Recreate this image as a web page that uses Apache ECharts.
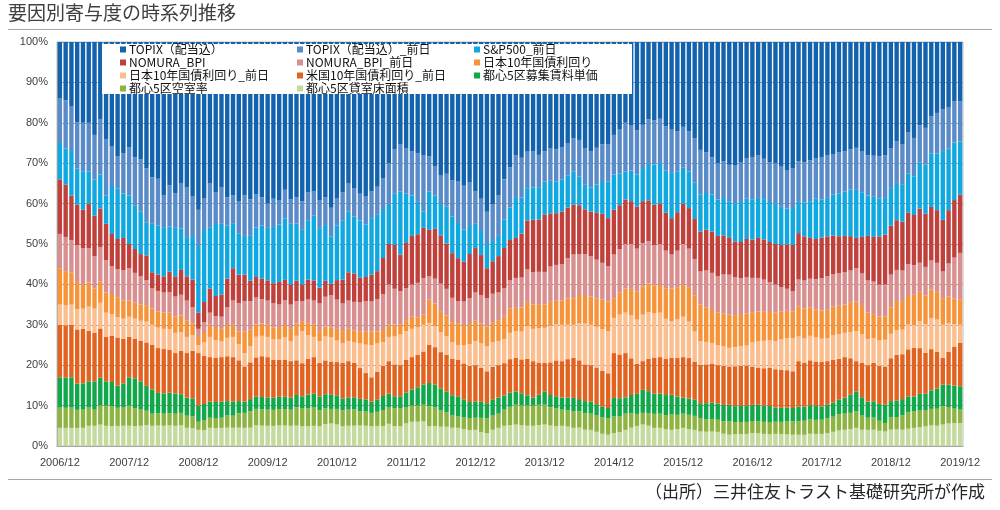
<!DOCTYPE html>
<html>
<head>
<meta charset="utf-8">
<script src="https://cdn.jsdelivr.net/npm/echarts@6/dist/echarts.min.js"></script>
<style>
html,body{margin:0;padding:0;background:#fff;}
#chart{width:1000px;height:510px;}
</style>
</head>
<body>
<div id="chart"></div>
<script>
// ---- categories (monthly, 2006/12 .. 2019/12) ----
const categories = [];
for (let y = 2006, m = 12; y < 2019 || (y === 2019 && m <= 12); ) {
  categories.push(y + '/' + (m < 10 ? '0' + m : m));
  m++; if (m > 12) { m = 1; y++; }
}
const yTicks = [0,10,20,30,40,50,60,70,80,90,100];

// ---- series values (share %) ----
const TOPIX = [
14,14.5,16,20,20,20,23,18,24,26,28.5,27.5,
26,29,29,30.5,33.5,33.5,38,35,37.5,34,36,39,
41.5,39,35,37.5,36,38,38,39,38,38.5,37,38,
40,39,38.5,36,39,38,39.5,38,37,40,39,42,
40,38,35,36,37,38,37,36,34,30,27,25.4,
26,27,27.5,28,28.3,30,33,32,34,34.5,36,35,
37,39,42,40,38,34,31,28,29,27,27,28,
27,26,27,26,25,23.8,24,26,27,26,25,25.4,
23,22,20,20.5,22,20.5,19,19.5,19,21,21.7,22,
21,22,24,26.7,27,28,30,29,30.4,31,30,29,
28.5,28,29,30,30,31,32,31.2,29.5,30,29,29,
28.5,28,27.5,27,27,26.5,26.2,27,28,28,28.5,28,
26,24,25,22,23.8,20,21,18,17.5,16.7,16,14.5,14.7];
const TOPIX_prev = [
11,12,11,11.5,12,12,11,13,14,10,8,10,
12,12,13,13,11.5,11.5,8,10,8.5,11,12.5,10,
9,8,11,8,9,7,7,8,10,9,8,7,
6,7,6,7,6,6.5,7,7,6,7,7,7.3,
7,7,7,7,6.5,7,6.6,7,8,10,11,11.6,
11,11,12,14,8.7,7,7,8,9,10.3,11,11,
8,8,8,9,10,10,10,10.6,10,9,9,8,
7.5,8,8,8,8,8.2,9,9,9,9,9,9.1,
9.8,11,12,11,11,10.7,11,11,11,11,10.7,10,
10,10,11,11.1,10,9,9,9,9,9.5,10,10,
10.5,10.6,10,10,10,10,9.5,9.9,9.9,10,10,10,
10.5,10.6,10,10,10,10,10.4,10,10,10,10.5,10.6,
10,10,10,10,9.5,9,9,9,10,10.3,10,10,9.9];
const SP500_prev = [
9,9,11,9,9.5,8,9,8,7,12,12.5,11,
12,11,10.5,8,12,12,12,11,12,10,9.5,11,
16.5,18,15,18,17.5,13,11,10,9.6,11,12,13,
13,14,14,15,15,14,13.5,15,16,15,14,12,
14,15,15,14,14,13,14,14,12,10,13,15.6,
12,10,8,4,9.5,8,8,9,9,8.7,8,7,
6,6,6,5,5,7,8,9.9,9,8,8,8,
8.2,8,8,8,8,8.3,7,6,6,7,8,9.1,
8.7,8,7,7.5,8,8.2,9,10,10,10.5,11.2,10,
9,9,9,9.1,9,9,9,9.1,9.1,9.5,10,10,
10,9.9,10,10,10,9.5,9,9.1,7.9,8.5,9,10,
9.5,9.5,10,10.5,11,11.5,11.9,11,10,10,9.5,9.1,
9,9,9,9.5,9.6,11,12,13,14,17,15,14,13.2];
const BPI = [
13.5,13,11,10,9.5,11,10,9,9,8,7.5,8,
6,6,5.5,6,4,4,4,5,5,6,6,7,
4,5,6,5,5.5,7,8,7,6.6,5,5,5,
5,5,5.5,5,5,5,4.2,5,5,4,4,2.9,
5,6,7,7,6,6,6.6,7,9,10,11,9.1,
11,12,12,12.4,11.5,12,12,11,11,10.7,10,11,
11,10,7.4,8,9,10,10,9.9,11,12,13,13,
14.1,13,13,13,12.5,12.3,12,11,11,11.5,12,11.9,
11.1,11,11,10.5,10.5,10.4,10,10,10,9.5,9,9.5,
10,10,10,9.9,10,10,10,9.5,9.1,9,9,9.5,
9.5,9.9,10,10,10,10.5,11,11.5,11.5,11,10,10,
10,9.9,9.5,9,9,8.5,7.5,9,11,11,12,12.3,
12,12,12,12.5,12.4,13,13,13,13,12.8,13,14,14.4];
const BPI_prev = [
8.5,8.5,8,9,9,8.5,8,8,8,7,7,7.5,
8,7.5,7,6,5,5,5,5,5,5,5,4,
2,2.5,3,3,3,4.5,6,7,7.4,7,6.5,6,
6,6,5.5,6,6,5.5,4.9,6,6,7,7.5,8.2,
7.5,7,7,7,7,7.5,7.4,8,9,10,9,8.3,
8,8,8.5,9.1,5.8,6,7,6.5,6,5.4,6,6.5,
7,7,7,7,7,7,7,7.4,7.5,8,8,8,
8,8.5,9,9,10,10.8,10,10,10,9.5,9,8.7,
10.8,11,11,11,10.7,10.7,10.5,10,10,9.5,8.4,9,
10,9.5,9,8.2,9,9,9,9.5,9.9,9.5,9,9,
8.5,8.3,8,7.5,7,6,5.5,5,6.6,7,7,7.5,
8,8.3,8,8,8,8,8.2,8,8,8,8,7.9,
8,7.5,7.5,7.5,7.4,7,7,7,7,6.6,8,10,11.6];
const JGB10 = [
9,8.5,8,7,6,6,5,5,5,5,5,4.5,
4,4,4,4,4,4,4,4,4,4,4,3,
2,2.5,3,3,3,3,3,3,5.4,4,3,3,
3,3,3,3,3,3,2.5,3,3,2.5,2.5,2.4,
3,3,3,3,3,3.2,3.4,3,3,3,3,2.4,
2.5,3,2.5,2.5,5.8,5.5,5,5,5,5.4,5,5,
5,5,4.9,5,5,5.5,6,5.8,6,6,6,6,
5.8,6,6,6,6.5,6.6,7,7,7,7,7.2,7.4,
4.9,5.5,6,6.5,7,7,7,7,7,7.5,8.1,8,
8,8.5,9,9.1,8.5,8,8,8,8.2,8,8,8,
7.5,7.4,7.2,7,7,7,6.8,6.6,7.5,7.5,7,7,
7,7,7,7,7,7.2,7.4,7,6.5,6,6,5.8,
6.5,7,7,7.2,7.5,7,7,7,7,6.6,6.5,6.2,6.2];
const JGB10_prev = [
5,5,5,5,5,6,6,6,6,5.5,5,5,
5,5,5,5,5,5,5,5,5,4.5,4,4,
2,3.5,5,4.5,4,4.5,5,4,3.3,4,5,5,
5,5,5,5.5,5,6,7.9,6,5,5.5,6,6.2,
5.5,5,5,5,6,7,8,7,6,6,7,7.6,
7,7,6.8,6.6,5.4,5,5,4.5,4,3.6,4.5,5.5,
6,6,6.2,6,6,6,6.5,6.6,7,8,8,8.5,
8.7,9,9,9,8.5,8.2,9,10,10,10,10.2,10.4,
8.7,10,10,10.5,11,11.5,11.5,11,11,10,9.1,9.5,
10,9,7.5,5.8,5.5,5,5,4.8,4.6,4.8,5,5,
6,6.6,6.8,7,7,7.5,8,8.2,6.1,6,6,6,
5.8,5.7,6,6,6,6.5,7.4,7,6.5,6,6.3,6.6,
6,6,6,6,5.7,6.5,7,7.5,8,8.2,7,5.5,4.5];
const UST10_prev = [
13,13,13,13.5,13.5,12.5,12,11.5,11,11.5,12,11,
10,10,10,10.5,11,11,11,10.5,10,10.5,11,12,
13,12,11,11,11,11,11,10,8.7,9,9.5,10,
10,9.5,9,9,9,8.5,8.2,9,9,8.5,8.5,8.3,
8.5,9,9,8.5,7.5,6.5,6,7,7.5,8,8,7.7,
8,8,8,8.2,9.4,9,9,9,9,9.1,9,9,
9,8.5,7.9,8,8,8,8.3,8.3,8.5,9,9,8,
7,8,9,9,9.5,9.9,9.5,9,9,9,8.8,8.6,
11.1,11,11,9,7.5,7.1,8,9,9,9,9.1,9.5,
10,10,9.5,9.5,9.5,9.5,9.5,9.5,9.5,10,10,10,
9.5,9.1,9.3,9.5,9.5,9.5,9.3,9.1,11.2,11,11,11,
11,10.8,10.5,10,10,9,7.5,8.5,9,9.5,9.5,9.5,
10.5,11,11,11.5,12,11,10,10,9,6.6,8,9.5,10.7];
const RENT = [
7.5,7.5,7.5,6.5,6.5,6.5,7,6.5,6,6,5.5,6,
7,7.5,7,6,6,5,5,5,5,4.5,4.5,4.5,
4,4,4,4,4,3.5,3.5,3,2.8,3,3,3,
3,3,3,3,3,3,2.9,3.5,3.5,3.5,3.5,3.7,
3.5,3,3,3,3,3,2.8,3,3.5,3.5,3,2.9,
3.5,4,4.5,5,5.8,5.5,5.5,5,5,5,4.5,4,
4,4,3.7,4,4,3.5,3.5,3.3,3,2.5,2,2.5,
3.3,3,3,3,3.2,3.3,3,3,3,2.8,2.6,2.5,
4.6,4.5,4,4.5,5,5.7,5.5,5,5,5,4.9,4.5,
4,4,4,3.7,4,4,4,4,4.1,4,4,4,
4,4.1,4,4,3.5,3.5,3.5,3.3,3.7,3.5,3.5,3.5,
3.3,3.3,3.5,3.5,4,4.5,4.9,4.5,4,4,4.2,4.5,
4,4,4,3.8,3.7,4,4,4.5,5,5.4,5.5,5.6,5.8];
const VACANCY = [
5,5,5,4.5,4.5,4.5,4,4.5,5,5,4.5,4.5,
5,4.5,4,3.5,3,3,3,3,3,3,3,3,
2,2.5,2.5,2.5,2.5,3,3,3.5,3.7,4,4,4,
4,4,4,4,4,4.5,4.5,4.5,4.5,4,4,3.7,
4,4,4,4,3.5,3.5,3.3,3.5,4,4,4.5,4.5,
4,4,4,4.1,4.9,4.5,4,3.5,3,2.8,3,3,
3,3.5,3.7,3.5,3.5,4,4.5,4.9,5,5,5,5,
4.9,4.5,4.5,4,4,4.1,4,4,4,4,4,4.1,
4.1,4,4,3.5,3,2.9,3,3.5,3.5,3.5,3.8,3.5,
3.5,3.5,3.5,3.3,3,3,3,3,3.3,3,3,3,
3,2.9,3,3,3,3,3.2,3.3,3.3,3.5,3.5,3.5,
3.5,3.7,3.7,4,4,4,4.1,3.5,3,3,2.5,2.1,
3,3,3.5,4,4.1,4,4,4,4.2,4.5,4,3.5,3.3];
const FLOOR = [
4.5,4.5,4.5,4.5,4.5,5,5,5,5,5,5,5,
5,5,5,5,5,5,5,5,5,5,4.5,4.5,
4,4,4.5,4.5,4.5,4.5,4.5,4.5,4.5,4.5,5,5,
5,5,5,5,5,5,4.9,5,5,5,5.5,5.7,
5.5,5,5,5,5,5,4.9,5,5,5.5,5,4.9,
5.5,6,6,6.1,4.9,4.8,4.8,4.7,4.5,4.5,4.2,4,
4,3.5,3.2,4,4.5,5,5.2,5.3,5.2,5,5,5.2,
5.3,5,5,5,4.8,4.5,4.5,4,4,3.5,3,2.8,
3.2,3.5,4,4.5,5,5.3,5,4.5,4.5,4.2,4,4.2,
4.5,4.2,4,3.6,3.5,3.5,3.5,3,2.8,3,3,3,
3.2,3.2,3,3,3,3,2.9,2.8,2.8,2.8,3,3,
3,3.2,3.5,3.8,4,4.2,4.5,4,4,4,3.8,3.6,
4,4,4,4.2,4.5,4.5,4.8,5,5,5.3,5.5,5.6,5.7];

// ---- series names / colours (legend order = top of stack first) ----
const names = {
  TX:'TOPIX（配当込）', TXp:'TOPIX（配当込）_前日', SP:'S&P500_前日',
  BPI:'NOMURA_BPI', BPIp:'NOMURA_BPI_前日', JP:'日本10年国債利回り',
  JPp:'日本10年国債利回り_前日', US:'米国10年国債利回り_前日', GR:'都心5区募集賃料単価',
  OL:'都心5区空室率', LG:'都心5区貸室床面積'
};
const stackDefs = [ // bottom -> top
  [names.LG, FLOOR, '#C4DA9E'],
  [names.OL, VACANCY, '#8DB440'],
  [names.GR, RENT, '#11A84B'],
  [names.US, UST10_prev, '#E2621F'],
  [names.JPp, JGB10_prev, '#FBBE8F'],
  [names.JP, JGB10, '#F7943A'],
  [names.BPIp, BPI_prev, '#D98F8F'],
  [names.BPI, BPI, '#C0403B'],
  [names.SP, SP500_prev, '#0FA8E0'],
  [names.TXp, TOPIX_prev, '#5A8BC9'],
  [names.TX, TOPIX, '#1262AE']
];

// 100% stacked: each column scaled to a total of 100
const sums = categories.map((_, i) => stackDefs.reduce((s, d) => s + d[1][i], 0));
const series = stackDefs.map(d => ({
  name: d[0], type: 'bar', stack: 'all',
  barCategoryGap: '24%',
  itemStyle: { color: d[2] },
  emphasis: { disabled: true },
  data: d[1].map((v, i) => +(v * 100 / sums[i]).toFixed(3))
}));

const legendCols = [
  { left: 120, data: [names.TX, names.BPI, names.JPp, names.OL] },
  { left: 297, data: [names.TXp, names.BPIp, names.US, names.LG] },
  { left: 474, data: [names.SP, names.JP, names.GR] }
];
const legends = legendCols.map(c => ({
  orient: 'vertical', left: c.left, top: 43, data: c.data,
  itemWidth: 6, itemHeight: 6, itemGap: 0, icon: 'rect', selectedMode: false,
  padding: 0, z: 5,
  textStyle: { fontFamily: 'Noto Sans CJK JP', fontSize: 12, color: '#111111', lineHeight: 13, padding: [0,0,0,-2] }
}));

const chart = echarts.init(document.getElementById('chart'), null, { renderer: 'canvas' });
chart.setOption({
  animation: false,
  backgroundColor: '#ffffff',
  textStyle: { fontFamily: 'Liberation Sans' },
  grid: { left: 57, right: 37, top: 42, bottom: 64, show: true, borderColor: '#bfbfbf', borderWidth: 1 },
  legend: legends,
  graphic: [
    { type: 'text', left: 8, top: 3, z: 10,
      style: { text: '要因別寄与度の時系列推移', font: '19px "Noto Sans CJK JP"', fill: '#404040' } },
    { type: 'line', z: 10, shape: { x1: 8, y1: 29.5, x2: 992, y2: 29.5 }, style: { stroke: '#a6a6a6', lineWidth: 1 } },
    { type: 'line', z: 10, shape: { x1: 8, y1: 479.5, x2: 992, y2: 479.5 }, style: { stroke: '#a6a6a6', lineWidth: 1 } },
    { type: 'rect', z: 4, shape: { x: 102, y: 44, width: 530, height: 50 }, style: { fill: '#ffffff' } },
    { type: 'text', right: 15, top: 483, z: 10,
      style: { text: '（出所）三井住友トラスト基礎研究所が作成', font: '17px "Noto Sans CJK JP"', fill: '#262626' } }
  ],
  xAxis: {
    type: 'category', data: categories,
    axisLine: { lineStyle: { color: '#a6a6a6' } },
    axisTick: { interval: 11, length: 5, lineStyle: { color: '#a6a6a6' } },
    axisLabel: { interval: 11, fontSize: 11, color: '#404040', margin: 11, fontFamily: 'Liberation Sans Narrow, Liberation Sans' }
  },
  yAxis: {
    type: 'value', min: yTicks[0], max: yTicks[yTicks.length - 1], interval: 10,
    axisLine: { show: true, lineStyle: { color: '#a6a6a6' } },
    axisTick: { show: false },
    splitLine: { lineStyle: { color: '#a6a6a6' } },
    axisLabel: { formatter: '{value}%', fontSize: 11, color: '#404040', margin: 9, fontFamily: 'Liberation Sans Narrow, Liberation Sans' }
  },
  series: series
});
</script>
</body>
</html>
